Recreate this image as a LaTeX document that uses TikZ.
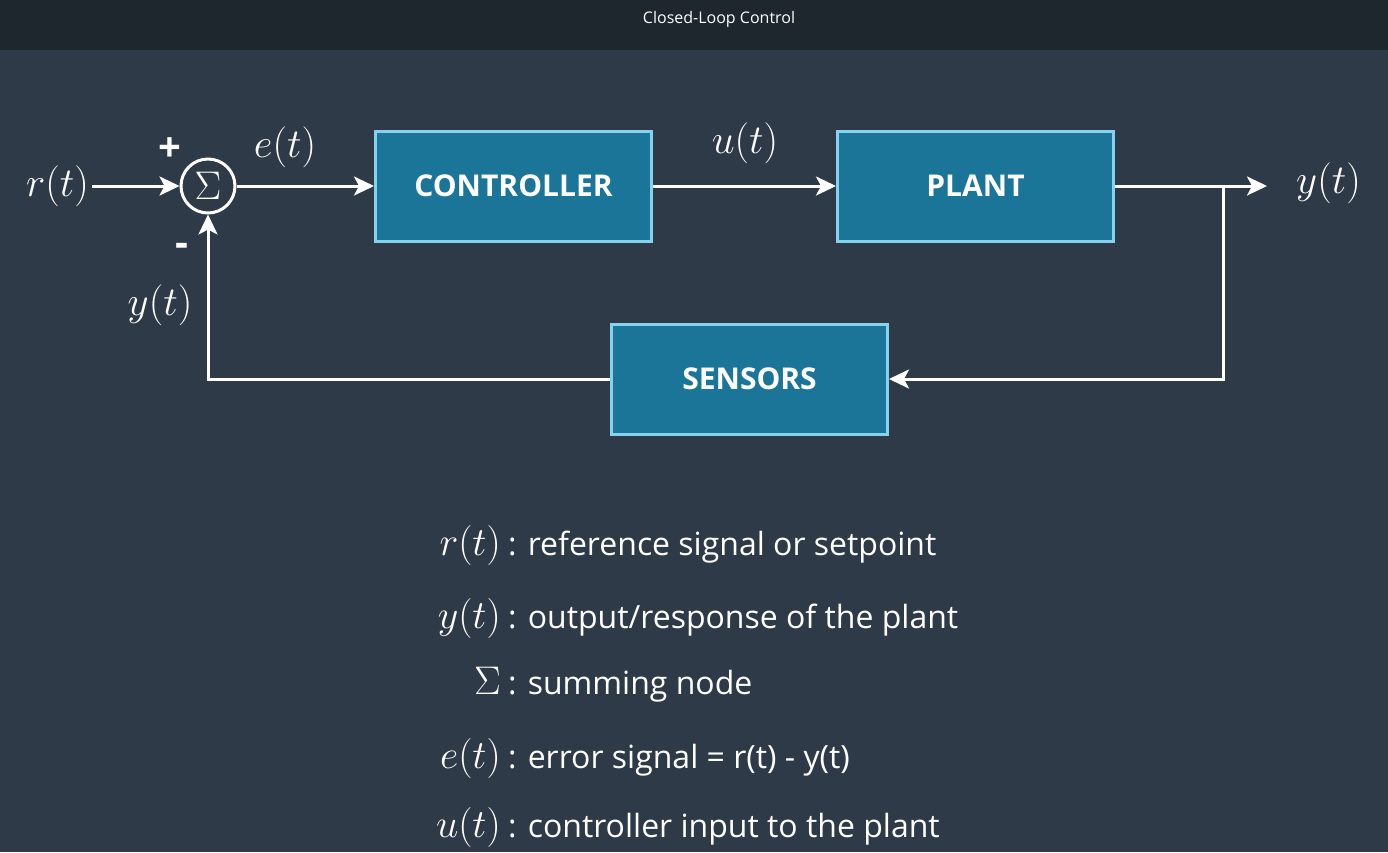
\documentclass[tikz,border=0pt]{standalone}
\usepackage{fix-cm}
\usepackage{fontspec}
\setmainfont{Open Sans}
\usetikzlibrary{positioning,arrows.meta}
\definecolor{bgdark}{HTML}{2E3A47}
\definecolor{bartop}{HTML}{1E262E}
\definecolor{boxfill}{HTML}{1B7598}
\definecolor{boxline}{HTML}{86D2EC}
\tikzset{
  blk/.style  ={draw=boxline, fill=boxfill, line width=3pt, minimum width=276pt,
                minimum height=110pt, text=white, font=\fontsize{30}{36}\selectfont\bfseries},
  sum/.style  ={circle, draw=white, line width=3pt, minimum size=54pt, inner sep=0pt,
                text=white, font=\fontsize{40}{48}\selectfont},
  sig/.style  ={text=white, inner sep=3pt, font=\fontsize{41}{48}\selectfont},
  sgn/.style  ={text=white, font=\fontsize{40}{44}\selectfont\bfseries},
  fl/.style   ={-{Stealth[length=20pt,width=19pt,inset=5pt]}, line width=3pt, white},
  key/.style  ={text=white, inner sep=0pt, anchor=base east, font=\fontsize{40}{48}\selectfont},
  desc/.style ={text=white, inner sep=0pt, anchor=base west, font=\fontsize{32}{38}\selectfont},
}

\begin{document}
\begin{tikzpicture}[x=1pt, y=-1pt]
  % backdrop and title bar
  \fill[bgdark] (0,0) rectangle (1388,852);
  \fill[bartop] (0,0) rectangle (1388,50);
  \node[text=white, font=\fontsize{16}{20}\selectfont](title) at (719,19) {Closed-Loop Control};

  % loop blocks
  \node[sum](sum) at (208,186) {$\Sigma$};
  \node[blk](ctrl) at (513.5,186) {CONTROLLER};
  \node[blk](plant) at (975.5,186) {PLANT};
  \node[blk](sens) at (749.5,379) {SENSORS};

  % signal labels
  \node[sig, anchor=east](rin) at (92,186) {$r(t)$};
  \node[sig](err) at (285,147) {$e(t)$};
  \node[sig](ctl) at (745,143) {$u(t)$};
  \node[sig, anchor=west](yout) at (1293,183) {$y(t)$};
  \node[sig](yfb) at (160,305) {$y(t)$};
  \node[sgn](plus) at (170,150) {+};
  \node[sgn](minus) at (182,250) {-};

  \coordinate (tap) at (1223,186);

  \draw[fl](rin.east |- sum) -- (sum.west);
  \draw[fl](sum.east) -- (ctrl.west);
  \draw[fl](ctrl.east) -- (plant.west);
  \draw[fl](plant.east) -- (yout.west |- plant) [shorten >=26pt];
  \draw[fl](tap) |- (sens.east);
  \draw[fl](sens.west) -| (sum.south);

  % legend
  \node[key](kr) at (501,555) {$r(t)$};
  \node[desc](dr) at (508,555) {: reference signal or setpoint};
  \node[key](ky) at (501,628) {$y(t)$};
  \node[desc](dy) at (508,628) {: output/response of the plant};
  \node[key](ks) at (501,694) {$\Sigma$};
  \node[desc](ds) at (508,694) {: summing node};
  \node[key](ke) at (501,768) {$e(t)$};
  \node[desc](de) at (508,768) {: error signal = r(t) - y(t)};
  \node[key](ku) at (501,837) {$u(t)$};
  \node[desc](du) at (508,837) {: controller input to the plant};

  \useasboundingbox (0,0) rectangle (1388,852);
\end{tikzpicture}
\end{document}
